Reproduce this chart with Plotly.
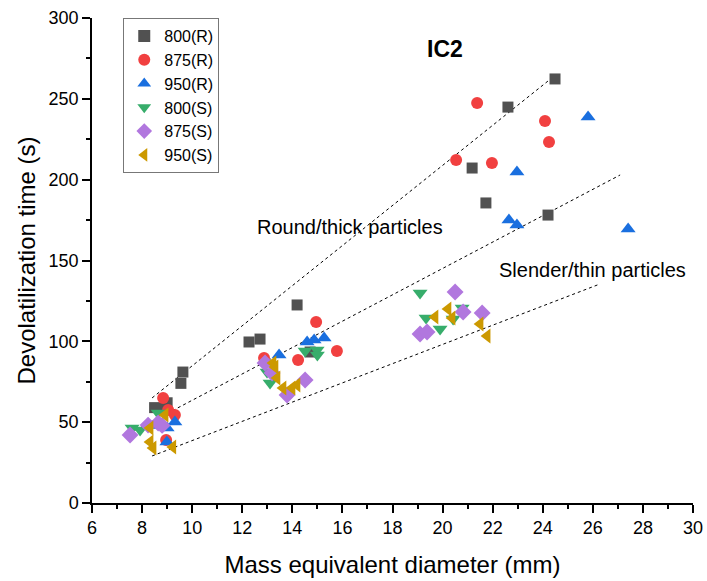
import plotly.graph_objects as go

# ---- data ----
x_800R = [8.5, 8.9, 9.0, 9.55, 9.63, 12.27, 12.71, 14.19, 14.71, 21.18, 21.73, 22.61, 24.21, 24.49]
y_800R = [59, 60, 62, 74, 81, 99.6, 101.4, 122.5, 93.4, 207.2, 185.6, 244.9, 178.1, 262.3]

x_875R = [8.84, 9.04, 9.31, 8.96, 12.87, 14.23, 14.95, 15.78, 20.54, 21.38, 21.97, 24.09, 24.25]
y_875R = [64.9, 57.5, 54.4, 39.0, 89.7, 88.5, 112.0, 94.0, 212.2, 247.4, 210.3, 236.3, 223.3]

x_950R = [8.6, 9.0, 9.31, 8.99, 13.47, 14.59, 14.87, 15.27, 22.65, 22.97, 22.97, 25.81, 27.41]
y_950R = [48, 46.4, 50.1, 37.7, 91.5, 99.6, 100.8, 102.0, 175.0, 172.0, 204.7, 238.8, 169.5]

x_800S = [7.6, 7.92, 8.64, 12.99, 13.11, 14.51, 14.99, 15.0, 19.10, 19.34, 19.90, 20.42, 20.78]
y_800S = [46.4, 45.2, 55.7, 81.0, 74.2, 94.0, 94.6, 91.5, 129.9, 114.4, 107.6, 113.8, 120.6]

x_875S = [7.52, 8.24, 8.64, 8.8, 12.91, 13.19, 13.79, 14.51, 19.10, 19.38, 20.50, 20.82, 21.58]
y_875S = [42.1, 48.2, 49.5, 48, 86.6, 80.4, 66.8, 76.1, 104.5, 105.8, 130.5, 118.1, 117.5]

x_950S = [8.32, 8.32, 8.44, 8.92, 9.23, 13.23, 13.31, 13.39, 13.63, 13.99, 14.19, 19.70, 20.22, 20.38, 21.50, 21.78]
y_950S = [46.4, 37.7, 34.0, 54.4, 34.6, 86.6, 84.1, 77.3, 71.1, 71.1, 73.0, 115.0, 120.0, 114.4, 110.7, 103.3]

# guide lines (start, end)
round_x = [8.4, 24.41]
round_y = [65.0, 263.5]
mid_x = [7.52, 27.09]
mid_y = [43.3, 202.9]
thin_x = [8.40, 26.29]
thin_y = [29.1, 135.5]

x_ticks = [6, 8, 10, 12, 14, 16, 18, 20, 22, 24, 26, 28, 30]
y_ticks = [0, 50, 100, 150, 200, 250, 300]

series = [
    ("800(R)", x_800R, y_800R, "square", "#515151", 11),
    ("875(R)", x_875R, y_875R, "circle", "#F14040", 12),
    ("950(R)", x_950R, y_950R, "triangle-up", "#1A6FDF", 13),
    ("800(S)", x_800S, y_800S, "triangle-down", "#37AD6B", 13),
    ("875(S)", x_875S, y_875S, "diamond", "#B177DE", 13),
    ("950(S)", x_950S, y_950S, "triangle-left", "#CC9900", 13),
]

fig = go.Figure()

for lx, ly in [(round_x, round_y), (mid_x, mid_y), (thin_x, thin_y)]:
    fig.add_trace(go.Scatter(x=lx, y=ly, mode="lines", showlegend=False,
                             line=dict(color="black", width=1, dash="3px,3px"),
                             hoverinfo="skip"))

for name, xs, ys, sym, col, sz in series:
    fig.add_trace(go.Scatter(x=xs, y=ys, mode="markers", name=name,
                             marker=dict(symbol=sym, color=col, size=sz,
                                         line=dict(width=0))))

font_family = "Liberation Sans, Arial, sans-serif"

fig.update_layout(
    width=707, height=581,
    margin=dict(l=92, r=14, t=18, b=78),
    paper_bgcolor="white", plot_bgcolor="white",
    font=dict(family=font_family, size=18, color="black"),
    showlegend=True,
    legend=dict(x=0.052, y=1.0, xanchor="left", yanchor="top",
                bordercolor="#777777", borderwidth=1,
                font=dict(size=16), itemsizing="constant",
                entrywidth=64, entrywidthmode="pixels",
                tracegroupgap=0, bgcolor="white"),
    xaxis=dict(range=[6, 30], tickvals=x_ticks, ticktext=[str(v) for v in x_ticks],
               showline=True, linecolor="black", linewidth=1.5,
               ticks="outside", ticklen=8, tickwidth=1.5, tickcolor="black",
               showgrid=False, zeroline=False, automargin=False,
               minor=dict(dtick=1, ticks="outside", ticklen=4, tickwidth=1.5, tickcolor="black", showgrid=False),
               title=dict(text="Mass equivalent diameter (mm)", font=dict(size=24), standoff=19),
               tickfont=dict(size=18)),
    yaxis=dict(range=[0, 300], tickvals=y_ticks, ticktext=[str(v) for v in y_ticks],
               showline=True, linecolor="black", linewidth=1.5,
               ticks="outside", ticklen=8, tickwidth=1.5, tickcolor="black",
               showgrid=False, zeroline=False, automargin=False,
               minor=dict(dtick=25, ticks="outside", ticklen=4, tickwidth=1.5, tickcolor="black", showgrid=False),
               title=dict(text="Devolatilization time (s)", font=dict(size=24), standoff=6),
               tickfont=dict(size=18)),
    annotations=[
        dict(text="<b>IC2</b>", x=20.1, y=281, xref="x", yref="y", showarrow=False,
             font=dict(size=23)),
        dict(text="Round/thick particles", x=16.3, y=171, xref="x", yref="y", showarrow=False,
             font=dict(size=20)),
        dict(text="Slender/thin particles", x=26.0, y=144, xref="x", yref="y", showarrow=False,
             font=dict(size=20)),
    ],
)

# remove the default 8px page margin so the 707x581 figure fills the window exactly
fig.write_html("out.html", config={"displayModeBar": False},
               post_script="document.body.style.margin='0';document.body.style.overflow='hidden';")
